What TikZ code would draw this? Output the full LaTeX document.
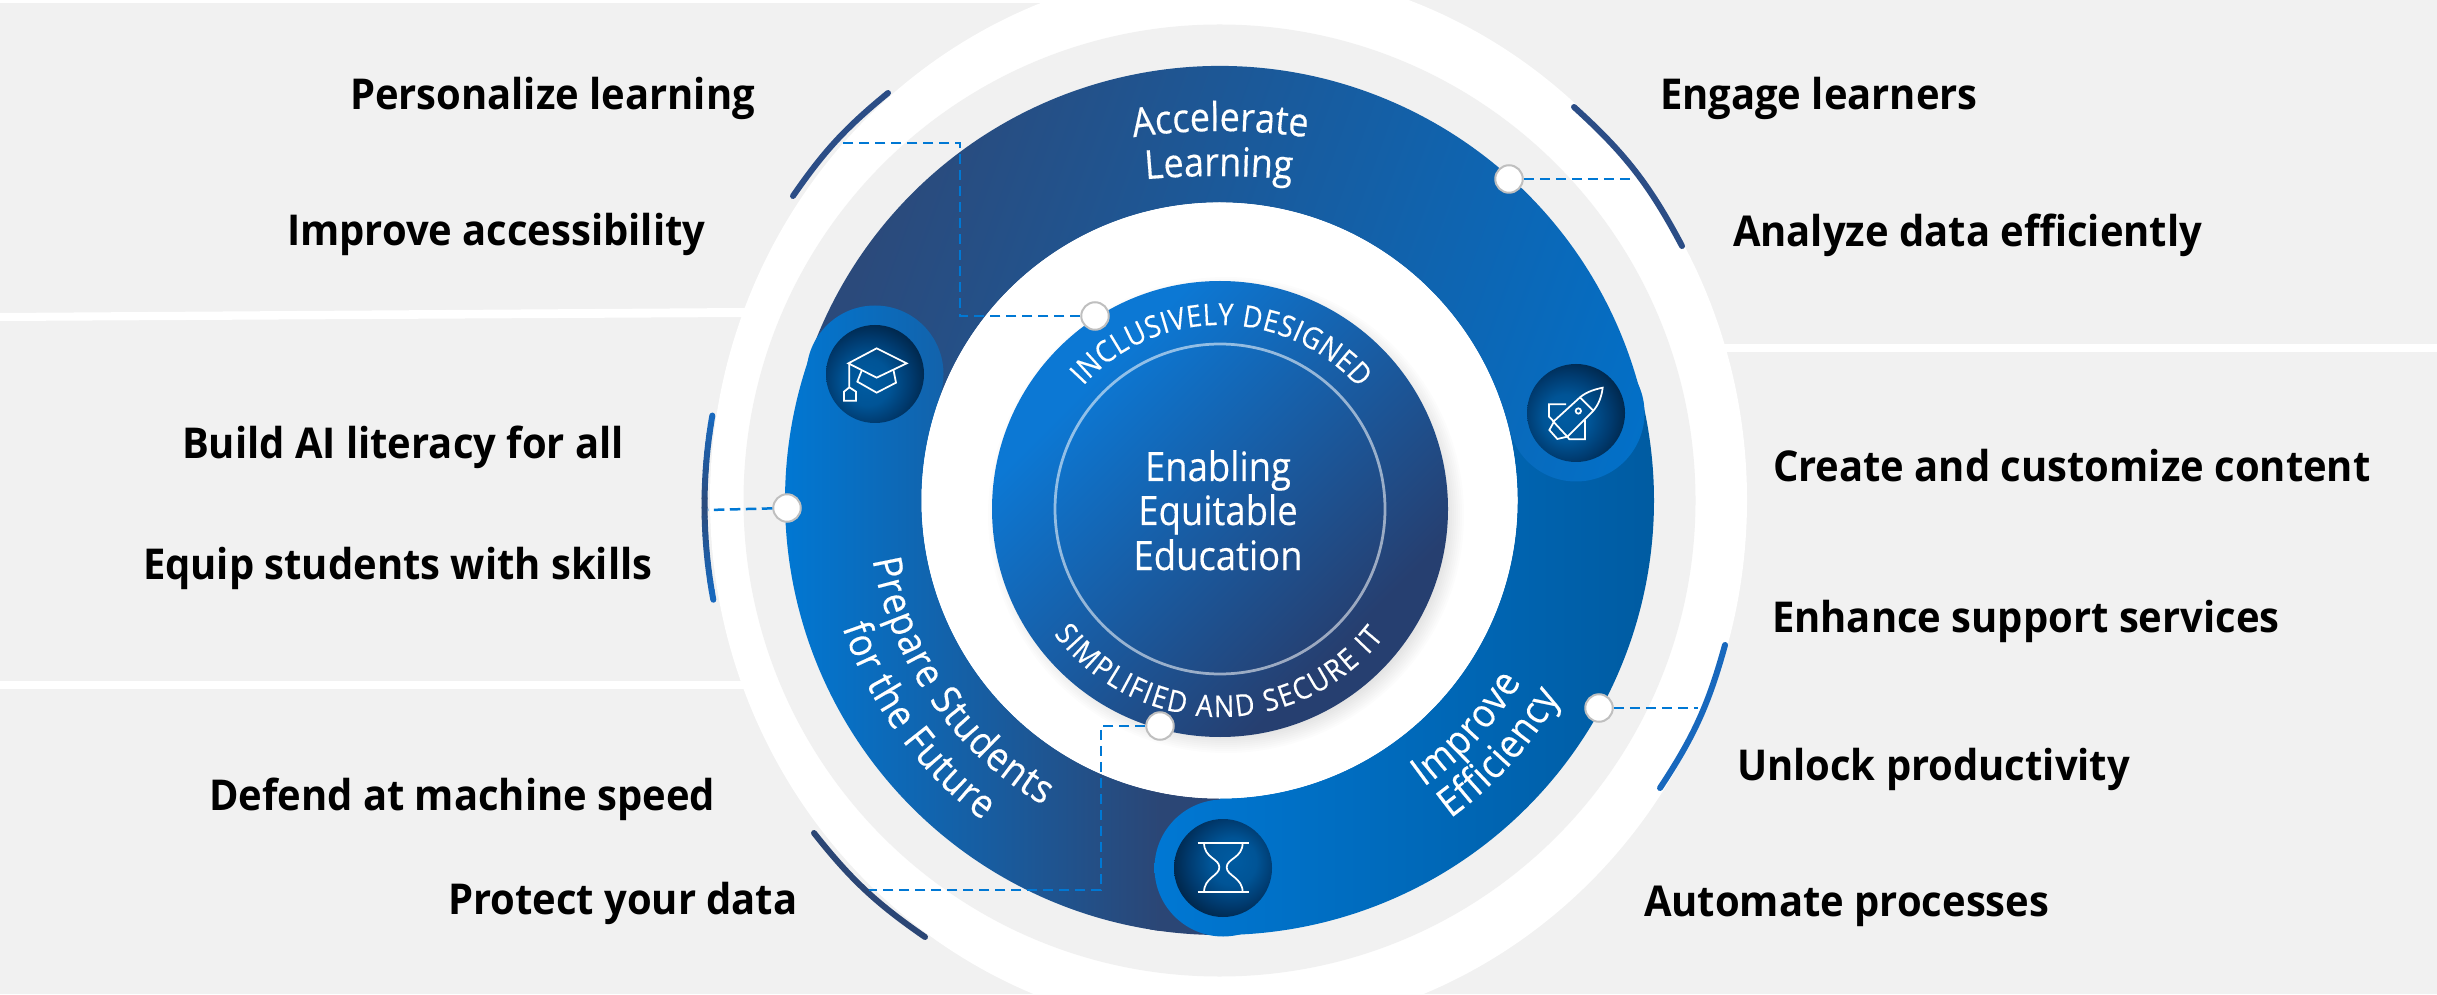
\documentclass[tikz,border=0pt]{standalone}
\usepackage{fontspec}
\setmainfont{Open Sans}
\newfontfamily\labf[FakeStretch=0.94]{Open Sans}
\newfontfamily\ringf[FakeStretch=0.9,FakeBold=0.3]{Open Sans}
\usetikzlibrary{decorations.text}
\definecolor{panel}{HTML}{F1F1F1}
\definecolor{azure}{HTML}{0078D4}
\definecolor{navy}{HTML}{2B4675}
\definecolor{deep}{HTML}{005BA1}
\definecolor{arcnavy}{HTML}{2B4D86}
\definecolor{arcblue}{HTML}{1868BD}
\definecolor{aStart}{HTML}{2B4A7B}
\definecolor{aEnd}{HTML}{0072CC}
\definecolor{inA}{HTML}{0C78D4}
\definecolor{inB}{HTML}{263F70}
\definecolor{b1}{HTML}{005BA1}
\definecolor{b2}{HTML}{005496}
\definecolor{b3}{HTML}{003A6E}
\definecolor{b4}{HTML}{00203F}
\pgfdeclareverticalshading{ringA}{100bp}{color(0bp)=(aStart);color(35bp)=(aStart);color(65bp)=(aEnd);color(100bp)=(aEnd)}
\pgfdeclareverticalshading{innerG}{100bp}{color(0bp)=(inB);color(30bp)=(inB);color(70bp)=(inA);color(100bp)=(inA)}
\pgfdeclareradialshading{capG}{\pgfpoint{-5bp}{-5bp}}{color(0bp)=(b1);color(12bp)=(b2);color(22bp)=(b3);color(32bp)=(b4);color(70bp)=(b4)}
\pgfdeclareradialshading{rocketG}{\pgfpoint{-6bp}{-3bp}}{color(0bp)=(b1);color(12bp)=(b2);color(22bp)=(b3);color(32bp)=(b4);color(70bp)=(b4)}
\pgfdeclareradialshading{glassG}{\pgfpoint{6bp}{4bp}}{color(0bp)=(b1);color(12bp)=(b2);color(22bp)=(b3);color(32bp)=(b4);color(70bp)=(b4)}
\newcommand\fillA{\shade[shading=ringA,shading angle=-109.8] (520,-207) rectangle (1920,1193);}
\newcommand\fillE{\shade[left color=azure,right color=deep] (1150,0) rectangle (1660,994);}
\newcommand\fillP{\fill[navy] (1150,0) rectangle (1240,994);\shade[left color=azure,right color=navy] (780,0) rectangle (1160,994);}
\newcommand\sector[2]{([shift={(1219.5,493.5)}]#1:434.5) arc[start angle=#1,end angle=#2,radius=434.5] -- ([shift={(1219.5,493.5)}]#2:298) arc[start angle=#2,end angle=#1,radius=298] -- cycle}
\newcommand\bendtext[3]{\path[decorate,decoration={text along path,text color=white,text align={fit to path},text={|#3|#2}}] #1;}
\tikzset{
 x=0.4pt,y=0.4pt,
 label/.style={anchor=base west,inner sep=0,outer sep=0,text=black,font=\labf\bfseries\fontsize{17}{20}\selectfont},
 core/.style={anchor=base,inner sep=0,text=white,font=\ringf\fontsize{16.2}{19}\selectfont},
 dotn/.style={circle,fill=white,draw=black!25,line width=.8pt,minimum size=11pt,inner sep=0},
 link/.style={draw=azure,line width=1pt,dash pattern=on 4.2pt off 2.2pt},
 sidearc/.style={line width=2.4pt,line cap=round},
 icon/.style={draw=white,line width=.7pt,line join=miter}
}
\begin{document}
\begin{tikzpicture}
\useasboundingbox (0,0) rectangle (2437,994);
% background panels
\fill[panel] (0,0) rectangle (2437,994);
\fill[white] (0,991) rectangle (1060,994);
\fill[white] (0,673) -- (745,677) -- (745,686) -- (0,681) -- cycle;
\fill[white] (0,305) rectangle (745,313);
\fill[white] (1700,642) rectangle (2437,650);
\fill[white] (1228.5,494) ellipse [x radius=518.5,y radius=533];
\fill[panel] (1219.5,493.5) circle (476);
% ring: three overlapping segments
\begin{scope}\clip \sector{-90}{13.8};\fillE\end{scope}
\begin{scope}\clip \sector{13.8}{159.8};\fillA\end{scope}
\begin{scope}\clip (1576,581) circle (68.5);\fillA\end{scope}
\begin{scope}\clip \sector{159.8}{270};\fillP\end{scope}
\begin{scope}\clip (875,620) circle (68.5);\fillP\end{scope}
\begin{scope}\clip (1223,126) circle (68.5);\fillE\end{scope}
% medallions
\shade[shading=capG] (875,620) circle (49);
\shade[shading=rocketG] (1576,581) circle (49);
\shade[shading=glassG] (1223,126) circle (49);
% icons (local coordinates read from magnified crops)
\begin{scope}[shift={(780,694)},scale=1/3,yscale=-1]
 \draw[icon] (290,145) -- (380,190) -- (290,233) -- (205,190) -- cycle;
 \draw[icon] (245,212) -- (232,245) -- (290,278) -- (348,248) -- (340,208);
 \draw[icon] (208,190) -- (208,262) -- (228,275) -- (228,302) -- (192,302) -- (192,275) -- (208,262);
\end{scope}
\begin{scope}[shift={(1480,654)},scale=1/3,yscale=-1]
 \draw[icon] (300,172) .. controls (320,155) and (345,148) .. (368,143) .. controls (365,170) and (355,195) .. (340,212) -- (262,290) -- (220,245) -- cycle;
 \draw[icon] (300,172) -- (340,212);
 \draw[icon] (295,213) circle (8);
 \draw[icon] (258,193) -- (207,193) -- (207,230) -- (222,245);
 \draw[icon] (315,240) -- (315,298) -- (268,298) -- (262,290);
 \draw[icon] (222,245) -- (208,270) -- (232,297) -- (262,290);
\end{scope}
\begin{scope}[shift={(1130,204)},scale=1/3,yscale=-1]
 \draw[icon] (203,158) -- (356,158);
 \draw[icon] (203,307) -- (356,307);
 \draw[icon] (222,158) .. controls (222,205) and (268,205) .. (268,232) .. controls (268,258) and (222,262) .. (222,307);
 \draw[icon] (338,158) .. controls (338,205) and (290,205) .. (290,232) .. controls (290,258) and (338,262) .. (338,307);
\end{scope}
% inner disc with soft shadow
\fill[white] (1219.5,493.5) circle (298);
\foreach \r in {2,4,...,20}{\fill[black,opacity=.012] (1226,479) circle (218+\r);}
\shade[shading=innerG,shading angle=45] (1220,485) circle (228);
\draw[white,opacity=.55,line width=1.1pt] (1220,485) circle (165);
% side arcs
\coordinate (tlA) at (793,798);
\coordinate (tlB) at (888,901);
\coordinate (trA) at (1574,887);
\coordinate (trB) at (1682,748);
\coordinate (lrA) at (1725,349);
\coordinate (lrB) at (1660,206);
\coordinate (blA) at (814,161);
\coordinate (blB) at (925,57);
\draw[sidearc,arcnavy] (tlA) to[bend left=8] (tlB);
\draw[sidearc,arcnavy] (trA) to[bend left=10] (trB);
\draw[sidearc,arcblue] (lrA) to[bend left=9] (lrB);
\draw[sidearc,navy] (blA) to[bend right=8.5] (blB);
\foreach \i in {0,...,19}{
 \pgfmathsetmacro\aS{170+\i*1.03}
 \pgfmathsetmacro\aE{170+(\i+1)*1.03}
 \pgfmathsetmacro\m{100*abs(\i-9.5)/9.5}
 \draw[line width=2.4pt,line cap=round,color={arcblue!\m!aStart}] ([shift={(1219.5,489)}]\aS:515) arc[start angle=\aS,end angle=\aE,radius=515];
}
% connectors
\node[dotn] (dTop) at (1095,678) {};
\node[dotn] (dRight) at (1509,815) {};
\node[dotn] (dLeft) at (787,486) {};
\node[dotn] (dLow) at (1599,286) {};
\node[dotn] (dBot) at (1160,268) {};
\coordinate (c1) at (960,678);
\coordinate (c2) at (960,851);
\coordinate (tlEnd) at (839,851);
\coordinate (trEnd) at (1635,815);
\coordinate (lEnd) at (708,484);
\coordinate (lrEnd) at (1698,286);
\coordinate (c3) at (1101,268);
\coordinate (c4) at (1101,104);
\coordinate (blEnd) at (869,104);
\draw[link] (dTop) -- (c1) -- (c2) -- (tlEnd);
\draw[link] (dRight) -- (trEnd);
\draw[link] (dLeft) -- (lEnd);
\draw[link] (dLow) -- (lrEnd);
\draw[link] (dBot) -- (c3) -- (c4) -- (blEnd);
% curved titles
\newcommand\ringtxt{\ringf\fontsize{16}{19}\selectfont}
\newcommand\captxt{\ringf\fontsize{12}{14}\selectfont}
\bendtext{([shift={(98.3:600)}]1220,263) arc[start angle=98.3,end angle=81.7,radius=600]}{Accelerate}{\ringtxt}
\bendtext{([shift={(95.2:800)}]1218,18) arc[start angle=95.2,end angle=84.8,radius=800]}{Learning}{\ringtxt}
\bendtext{([shift={(138:184)}]1220,485) arc[start angle=138,end angle=41,radius=184]}{INCLUSIVELY DESIGNED}{\captxt}
\bendtext{([shift={(217:208)}]1220,485) arc[start angle=217,end angle=322,radius=208]}{SIMPLIFIED AND SECURE IT}{\captxt}
\bendtext{([shift={(189.7:352)}]1219.5,493.5) arc[start angle=189.7,end angle=240,radius=352]}{Prepare Students}{\ringtxt}
\bendtext{([shift={(198.6:398)}]1219.5,493.5) arc[start angle=198.6,end angle=233.5,radius=398]}{for the Future}{\ringtxt}
\bendtext{([shift={(-54.5:352)}]1219.5,493.5) arc[start angle=-54.5,end angle=-31,radius=352]}{Improve}{\ringtxt}
\bendtext{([shift={(-54:393)}]1219.5,493.5) arc[start angle=-54,end angle=-30,radius=393]}{Efficiency}{\ringtxt}
% centre
\node[core] (cA) at (1218,513) {Enabling};
\node[core] (cB) at (1218,469) {Equitable};
\node[core] (cC) at (1218,424) {Education};
% labels
\node[label] (l1) at (350,884) {Personalize learning};
\node[label] (l2) at (287,748) {Improve accessibility};
\node[label] (l3) at (1660,884) {Engage learners};
\node[label] (l4) at (1733,747) {Analyze data efficiently};
\node[label] (l5) at (182,535) {Build AI literacy for all};
\node[label] (l6) at (143,415) {Equip students with skills};
\node[label] (l7) at (209,184) {Defend at machine speed};
\node[label] (l8) at (448,80) {Protect your data};
\node[label] (l9) at (1773,512) {Create and customize content};
\node[label] (l10) at (1772,362) {Enhance support services};
\node[label] (l11) at (1737,214) {Unlock productivity};
\node[label] (l12) at (1644,78) {Automate processes};
\end{tikzpicture}
\end{document}
